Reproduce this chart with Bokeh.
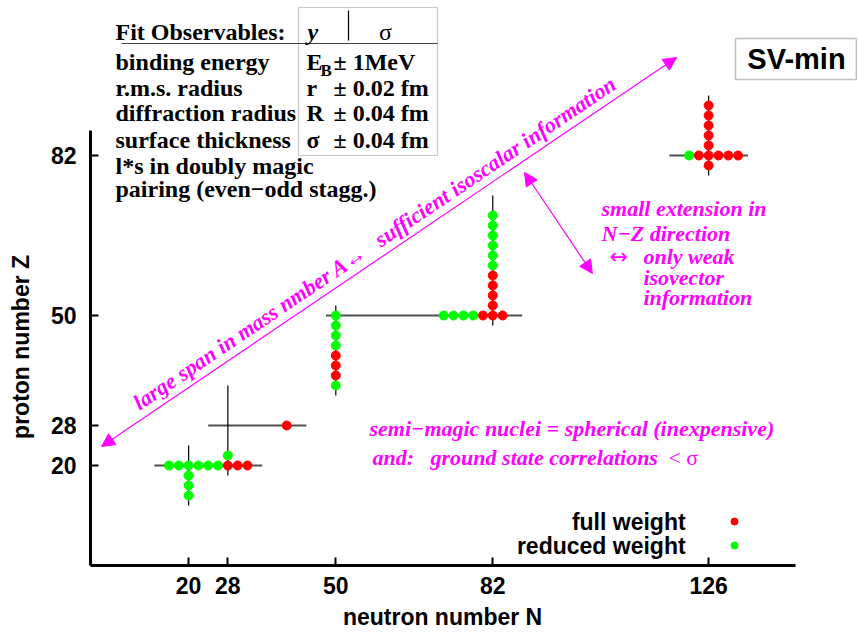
import math
from bokeh.plotting import figure
from bokeh.models import (Range1d, FixedTicker, Label, Arrow, NormalHead, BoxAnnotation)
from bokeh.embed import file_html
from bokeh.resources import INLINE

# ---------------- data ----------------
N_ticks = [20, 28, 50, 82, 126]
Z_ticks = [20, 28, 50, 82]

# isotopic chains (horizontal lines): Z and N extent
iso_Z = [20, 28, 50, 82]
iso_N_lo = [13, 24, 48, 118]
iso_N_hi = [35, 44, 88, 134]
# isotonic chains (vertical lines): N and Z extent
ton_N = [20, 28, 50, 82, 126]
ton_Z_lo = [12, 18, 34, 48, 78]
ton_Z_hi = [24, 36, 52, 74, 94]

# nuclei with full weight (red)
full_N = [28, 30, 32, 40, 50, 50, 50, 80, 82, 84, 82, 82, 82, 82,
          124, 126, 128, 130, 132, 126, 126, 126, 126, 126, 126]
full_Z = [20, 20, 20, 28, 42, 40, 38, 50, 50, 50, 52, 54, 56, 58,
          82, 82, 82, 82, 82, 80, 84, 86, 88, 90, 92]
# nuclei with reduced weight (green)
red_N = [16, 18, 20, 22, 24, 26, 20, 20, 20, 28, 50, 50, 50, 50, 50,
         72, 74, 76, 78, 82, 82, 82, 82, 82, 82, 122]
red_Z = [20, 20, 20, 20, 20, 20, 18, 16, 14, 22, 50, 48, 46, 44, 36,
         50, 50, 50, 50, 60, 62, 64, 66, 68, 70, 82]

# table of fit observables
obs_names = ["binding energy", "r.m.s. radius", "diffraction radius",
             "surface thickness", "l*s in doubly magic", "pairing (even\u2212odd stagg.)"]
obs_sym = ["E", "r", "R", "\u03c3"]
obs_err = ["\u00b1 1MeV", "\u00b1 0.02 fm", "\u00b1 0.04 fm", "\u00b1 0.04 fm"]

NB = "\u00a0"

# ---------------- figure ----------------
W, H = 858, 636
LB, BB = 90, 71
PXN, PXZ = 4.906, 5.0
p = figure(width=W, height=H, output_backend="svg", toolbar_location=None,
           x_range=Range1d(0, (W - LB) / PXN), y_range=Range1d(0, (H - BB) / PXZ),
           min_border_left=LB, min_border_bottom=BB, min_border_top=0, min_border_right=0)
p.outline_line_color = None
p.xgrid.visible = False
p.ygrid.visible = False
p.background_fill_color = "white"
p.border_fill_color = "white"

SANS = "Liberation Sans"
SERIF = "Liberation Serif"
MAG = "#ff00ff"

for ax, ticks, bnd in ((p.xaxis, N_ticks, (0, 143.7)), (p.yaxis, Z_ticks, (0, 87))):
    ax.ticker = FixedTicker(ticks=ticks)
    ax.bounds = bnd
    ax.axis_line_width = 3
    ax.axis_line_color = "black"
    ax.major_tick_in = 8
    ax.major_tick_out = 0
    ax.major_tick_line_width = 2
    ax.minor_tick_line_color = None
    ax.major_label_text_font = SANS
    ax.major_label_text_font_style = "bold"
    ax.major_label_text_font_size = "23px"
    ax.major_label_text_color = "black"
    ax.axis_label_text_font = SANS
    ax.axis_label_text_font_style = "bold"
    ax.axis_label_text_font_size = "23px"
    ax.axis_label_text_color = "black"
p.xaxis.major_label_standoff = 11
p.yaxis.major_label_standoff = 14
# titles centred on the drawn axis span (padding shifts the centre)
p.xaxis.axis_label = "neutron number N" + NB * 10
p.xaxis.axis_label_standoff = 7
p.yaxis.axis_label = "proton number Z" + NB * 20
p.yaxis.axis_label_standoff = 14

# chains
p.segment(x0=iso_N_lo, y0=iso_Z, x1=iso_N_hi, y1=iso_Z, line_color="#505050", line_width=2)
p.segment(x0=ton_N, y0=ton_Z_lo, x1=ton_N, y1=ton_Z_hi, line_color="black", line_width=1.2)

p.scatter(red_N, red_Z, size=9, marker="circle", fill_color="#00ff00", line_color="#00ff00")
p.scatter(full_N, full_Z, size=9, marker="circle", fill_color="#ff0000", line_color="#ff0000")

# ---------------- annotations ----------------
def lab(x, y, t, font=SERIF, size="24px", style="bold", color="black",
        align="left", base="middle", angle=0.0):
    p.add_layout(Label(x=x, y=y, text=t, text_font=font, text_font_size=size,
                       text_font_style=style, text_color=color, text_align=align,
                       text_baseline=base, angle=angle))

def rule(x0, y0, x1, y1, color="black", width=1.0, heads=False):
    if heads:
        kw = dict(start=NormalHead(size=13, fill_color=MAG, line_color=MAG, line_width=1),
                  end=NormalHead(size=13, fill_color=MAG, line_color=MAG, line_width=1))
    else:
        kw = dict(start=None, end=None)
    p.add_layout(Arrow(x_start=x0, y_start=y0, x_end=x1, y_end=y1,
                       line_color=color, line_width=width, **kw))

# table
p.add_layout(BoxAnnotation(left=42.40, right=70.73, top=111.6, bottom=82.0,
                           fill_alpha=0, line_color="#444444", line_width=1.2))
rule(6.32, 104.4, 70.73, 104.4, color="#444444", width=1.2)
rule(52.59, 111.0, 52.59, 105.0, color="black", width=1.2)
lab(5.10, 106.7, "Fit Observables:")
lab(44.23, 106.7, "y", style="bold italic")
lab(60.13, 106.7, "\u03c3", style="normal", align="center")
row_Z = [100.8, 95.6, 90.5, 85.2, 80.0, 75.3]
for zz, name in zip(row_Z, obs_names):
    lab(5.10, zz, name)
for zz, s, e in zip(row_Z, obs_sym, obs_err):
    lab(44.03, zz, s)
    lab(49.53, zz, e)
lab(46.88, 99.0, "B", size="17px")

# SV-min box
p.add_layout(BoxAnnotation(left=131.47, right=156.1, top=105.4, bottom=97.2,
                           fill_color="white", fill_alpha=1, line_color="#333333",
                           line_width=1.5))
lab(143.9, 101.3, "SV-min", font=SANS, size="29px", align="center")

# magenta arrows and remarks
rule(2.24, 23.8, 119.45, 101.6, color=MAG, width=1.2, heads=True)
rule(88.46, 78.6, 102.3, 58.4, color=MAG, width=1.2, heads=True)
lab(9.15, 32.2, "large span in mass nmber A\u2194" + NB * 3 + "sufficient isoscalar information",
    size="22px", style="bold italic", color=MAG, angle=0.594)
lab(104.16, 71.4, "small extension in", size="22px", style="bold italic", color=MAG)
lab(104.16, 66.4, "N\u2212Z direction", size="22px", style="bold italic", color=MAG)
lab(105.8, 61.8, "\u2194", font="DejaVu Sans", size="22px", style="normal", color=MAG)
lab(112.7, 61.8, "only weak", size="22px", style="bold italic", color=MAG)
lab(112.7, 57.6, "isovector", size="22px", style="bold italic", color=MAG)
lab(112.7, 53.6, "information", size="22px", style="bold italic", color=MAG)
lab(56.87, 27.4, "semi\u2212magic nuclei = spherical (inexpensive)", size="22px",
    style="bold italic", color=MAG)
lab(57.48, 21.6, "and:" + NB * 3 + "ground state correlations", size="22px",
    style="bold italic", color=MAG)
lab(117.8, 21.6, "<" + NB + "\u03c3", size="22px", style="normal", color=MAG)

# legend
lab(121.3, 8.8, "full weight", font=SANS, size="23px", align="right")
lab(121.3, 4.0, "reduced weight", font=SANS, size="23px", align="right")
p.scatter([131.27], [8.8], size=7, marker="circle", fill_color="#ff0000", line_color="#ff0000")
p.scatter([131.27], [4.0], size=7, marker="circle", fill_color="#00ff00", line_color="#00ff00")

open("out.html", "w").write(file_html(p, INLINE))
